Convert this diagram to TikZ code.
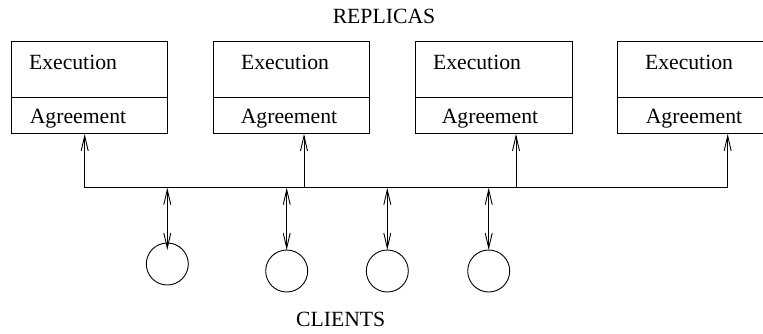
\documentclass[tikz,border=0pt]{standalone}
\usepackage{fontspec}
\setmainfont{Liberation Serif}
\usetikzlibrary{arrows.meta}
\begin{document}
\begin{tikzpicture}[x=1pt,y=-1pt,
 lbl/.style={anchor=base,inner sep=0pt,font=\fontsize{21.7}{26}\selectfont},
 part/.style={draw,line width=0.9pt,minimum width=156.5pt,inner sep=0pt,anchor=north west},
 conn/.style={line width=0.9pt},
 tip/.tip={Straight Barb[length=15pt,width=7pt,line width=0.9pt]},
 arr/.style={conn,-tip},
 darr/.style={conn,tip-tip},
 client/.style={draw,circle,line width=0.9pt,minimum size=42pt,inner sep=0pt}]
\clip (0,0) rectangle (763,333);
\node[lbl] (rep) at (384,23.3) {REPLICAS};
\foreach \i/\L/\ex/\ag/\ax in {1/10.7/73/78/84.7, 2/212.7/285/289/304, 3/415/477/490/516, 4/617.3/689/694/727.7} {
  \node[part,minimum height=55.5pt] (e\i) at (\L,41) {};
  \node[part,minimum height=36.5pt] (a\i) at (\L,96.5) {};
  \node[lbl] (et\i) at (\ex,69) {Execution};
  \node[lbl] (at\i) at (\ag,123.5) {Agreement};
  \coordinate (b\i) at (\ax,187.7);
  \draw[arr] (b\i) -- (b\i |- a\i.south);
}
\draw[conn] (b1) -- (b4);
\foreach \i/\cx/\cy/\te in {1/167.3/264/250, 2/286.7/271/250, 3/387.3/271/250, 4/488.7/271/250} {
  \node[client] (c\i) at (\cx,\cy) {};
  \coordinate (s\i) at (\cx,187.7);
  \coordinate (t\i) at (\cx,\te);
  \draw[darr] (s\i) -- (t\i);
}
\node[lbl] (cli) at (340.7,326) {CLIENTS};
\end{tikzpicture}
\end{document}
